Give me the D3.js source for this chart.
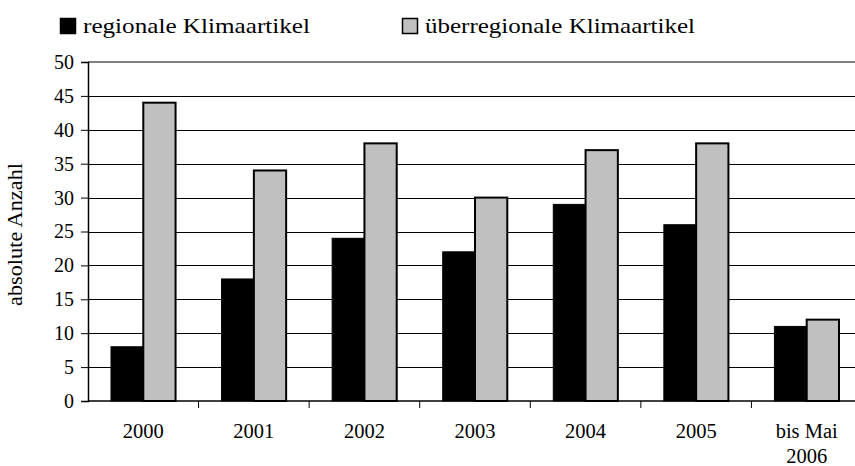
<!DOCTYPE html>
<html lang="de">
<head>
<meta charset="UTF-8">
<title>Klimaartikel</title>
<style>
  body { margin: 0; background: #fff; }
  svg { display: block; font-family: "Liberation Serif", "Times New Roman", serif; }
</style>
</head>
<body>
<div id="chart"></div>
<script src="https://d3js.org/d3.v7.min.js"></script>
<script>
// data
var years = ["2000", "2001", "2002", "2003", "2004", "2005", "bis Mai|2006"];
var regional = [8, 18, 24, 22, 29, 26, 11];
var ueberregional = [44, 34, 38, 30, 37, 38, 12];
var seriesNames = ["regionale Klimaartikel", "überregionale Klimaartikel"];
var seriesColors = ["#000000", "#c0c0c0"];
var yTicks = [0, 5, 10, 15, 20, 25, 30, 35, 40, 45, 50];

var width = 855, height = 466;
var plot = {left: 88, right: 862, top: 62, bottom: 401};

var svg = d3.select("#chart").append("svg")
    .attr("width", width)
    .attr("height", height);

var x = d3.scaleBand().domain(years).range([plot.left, plot.right]).padding(0);
var inner = d3.scaleBand().domain([0, 1])
    .range([x.bandwidth() * 0.208, x.bandwidth() * 0.792]).padding(0);
var y = d3.scaleLinear().domain([0, 50]).range([plot.bottom, plot.top]);

// gridlines
svg.append("g")
  .selectAll("line")
  .data(yTicks.filter(function(d) { return d > 0 && d < 50; }))
  .enter().append("line")
    .attr("x1", plot.left).attr("x2", plot.right)
    .attr("y1", function(d) { return Math.round(y(d)) + 0.5; })
    .attr("y2", function(d) { return Math.round(y(d)) + 0.5; })
    .attr("stroke", "#000").attr("stroke-width", 1);

// top border of plot area
svg.append("line")
    .attr("x1", plot.left).attr("x2", plot.right)
    .attr("y1", y(50)).attr("y2", y(50))
    .attr("stroke", "#808080").attr("stroke-width", 2);

// bars
var series = [regional, ueberregional];
series.forEach(function(vals, s) {
  svg.append("g")
    .selectAll("rect")
    .data(vals)
    .enter().append("rect")
      .attr("x", function(d, i) { return x(years[i]) + inner(s); })
      .attr("y", function(d) { return y(d); })
      .attr("width", inner.bandwidth())
      .attr("height", function(d) { return plot.bottom - y(d); })
      .attr("fill", seriesColors[s])
      .attr("stroke", "#000")
      .attr("stroke-width", s === 0 ? 1 : 2);
});

// y axis
var yAxis = svg.append("g")
    .attr("transform", "translate(" + plot.left + ",0)")
    .call(d3.axisLeft(y).tickValues(yTicks).tickSize(7).tickPadding(7));
yAxis.select(".domain").attr("stroke", "#000").attr("stroke-width", 1.5);
yAxis.selectAll(".tick line").attr("stroke", "#000");
yAxis.selectAll(".tick text")
    .attr("font-size", 20).attr("fill", "#000")
    .attr("font-family", "Liberation Serif, serif");

// x axis
svg.append("line")
    .attr("x1", plot.left).attr("x2", plot.right)
    .attr("y1", plot.bottom).attr("y2", plot.bottom)
    .attr("stroke", "#000").attr("stroke-width", 1.5);
svg.append("g")
  .selectAll("line")
  .data(years)
  .enter().append("line")
    .attr("x1", function(d) { return x(d) + x.bandwidth(); })
    .attr("x2", function(d) { return x(d) + x.bandwidth(); })
    .attr("y1", plot.bottom).attr("y2", plot.bottom + 7)
    .attr("stroke", "#000");

var xl = svg.append("g")
  .selectAll("text")
  .data(years)
  .enter().append("text")
    .attr("text-anchor", "middle")
    .attr("font-size", 20.5)
    .attr("fill", "#000");
xl.each(function(d) {
  var parts = d.split("|");
  var t = d3.select(this);
  parts.forEach(function(p, k) {
    t.append("tspan")
      .attr("x", x(d) + x.bandwidth() / 2)
      .attr("y", 438 + k * 25)
      .text(p);
  });
});

// y label
svg.append("text")
    .attr("transform", "translate(22," + ((plot.top + plot.bottom) / 2 + 3) + ") rotate(-90)")
    .attr("text-anchor", "middle")
    .attr("font-size", 20)
    .attr("textLength", 143)
    .attr("lengthAdjust", "spacingAndGlyphs")
    .attr("fill", "#000")
    .text("absolute Anzahl");

// legend
var legendX = [60, 402];
var legendLen = [227, 270];
seriesNames.forEach(function(name, s) {
  var g = svg.append("g").attr("transform", "translate(" + legendX[s] + ",18)");
  g.append("rect")
    .attr("x", 0.5).attr("y", 0.5)
    .attr("width", 15).attr("height", 15)
    .attr("fill", seriesColors[s])
    .attr("stroke", "#000").attr("stroke-width", 1.5);
  g.append("text")
    .attr("x", 23).attr("y", 15)
    .attr("font-size", 22)
    .attr("textLength", legendLen[s])
    .attr("lengthAdjust", "spacingAndGlyphs")
    .attr("fill", "#000")
    .text(name);
});
</script>
</body>
</html>
